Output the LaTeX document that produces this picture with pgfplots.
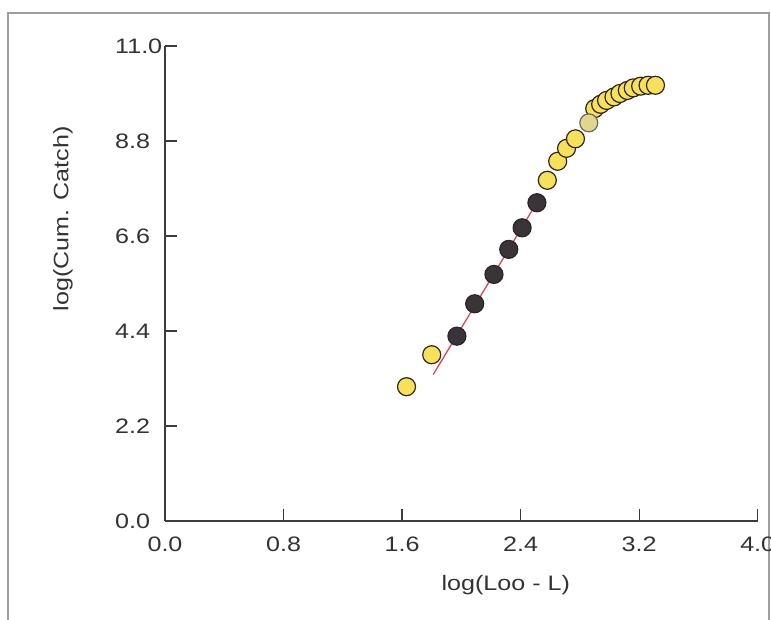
\documentclass[border=0pt]{standalone}
\usepackage{pgfplots}
\pgfplotsset{compat=1.18}
\usepackage{fontspec}
\setmainfont{Liberation Sans}[FakeStretch=1.2]
\definecolor{yel}{RGB}{247,224,90}
\definecolor{yelpale}{RGB}{226,214,140}
\definecolor{darkpt}{RGB}{58,52,56}
\definecolor{ptedge}{RGB}{45,38,30}
\definecolor{fitred}{RGB}{225,70,80}
\definecolor{axcol}{RGB}{60,60,60}
\begin{document}
\begin{tikzpicture}[x=1bp,y=1bp]
\path[use as bounding box] (0,0) rectangle (771,620);
\draw[gray!75, line width=1.2bp] (8,0) -- (8,607) -- (769,607) -- (769,0);
\begin{axis}[
  at={(165bp,99bp)}, anchor=south west,
  scale only axis, width=592.7bp, height=475bp,
  xmin=0, xmax=4, ymin=0, ymax=11,
  axis lines*=left,
  axis line style={axcol, line width=1.3bp},
  every tick/.style={axcol, line width=1.3bp},
  tick align=inside, major tick length=12bp,
  xtick={0,0.8,1.6,2.4,3.2,4.0},
  ytick={0,2.2,4.4,6.6,8.8,11.0},
  /pgf/number format/assume math mode=true,
  /pgf/number format/fixed,
  /pgf/number format/fixed zerofill,
  /pgf/number format/precision=1,
  tick label style={font=\fontsize{21}{24}\selectfont, text=black!80},
  x tick label style={anchor=north, inner sep=0pt, yshift=-16bp},
  y tick label style={anchor=west, inner sep=0pt, xshift=-50bp},
  xlabel={log(Loo - L)},
  ylabel={log(Cum. Catch)},
  label style={font=\fontsize{21}{24}\selectfont, text=black!80},
  xlabel style={at={(axis description cs:0.575,-0.135)}, anchor=center},
  ylabel style={at={(axis description cs:-0.172,0.636)}, anchor=center},
  clip=false,
]
\addplot[only marks, mark=*, mark size=9bp,
  mark options={fill=yel, draw=ptedge, line width=1.2bp}]
  coordinates {
  (1.63,3.11) (1.80,3.85) (2.58,7.89) (2.65,8.33) (2.71,8.63) (2.77,8.85)
  (2.90,9.55) (2.94,9.65) (2.98,9.74) (3.03,9.82) (3.07,9.90) (3.12,9.97)
  (3.16,10.03) (3.21,10.07) (3.26,10.09) (3.31,10.09)
  };
\addplot[only marks, mark=*, mark size=9bp,
  mark options={fill=yelpale, draw=ptedge!70, line width=1.2bp}]
  coordinates {(2.86,9.22)};
\addplot[only marks, mark=*, mark size=9bp,
  mark options={fill=darkpt, draw=black!85, line width=1.2bp}]
  coordinates {
  (1.97,4.28) (2.09,5.03) (2.22,5.71) (2.32,6.29) (2.41,6.79) (2.51,7.37)
  };
\addplot[fitred, line width=1.3bp] coordinates {(1.81,3.39) (2.53,7.49)};
\end{axis}
\end{tikzpicture}
\end{document}
